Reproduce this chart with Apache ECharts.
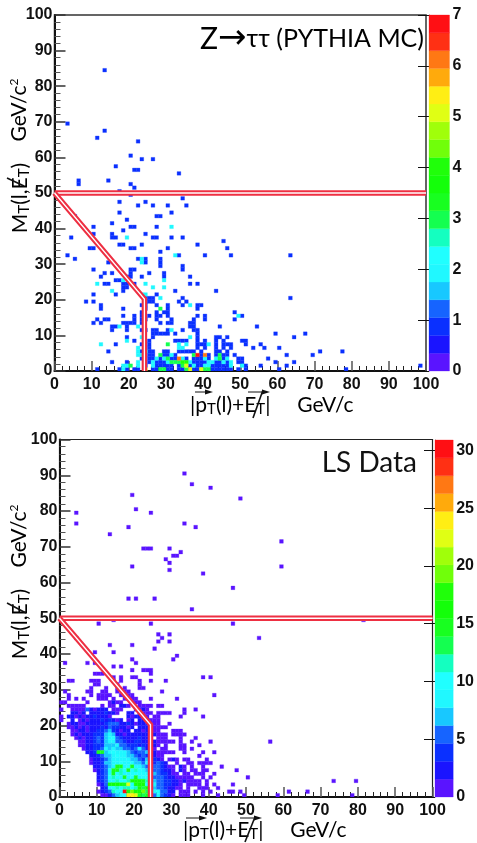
<!DOCTYPE html>
<html>
<head>
<meta charset="utf-8">
<style>
  html, body { margin: 0; padding: 0; background: #fff; }
  #main { width: 477px; height: 843px; }
</style>
<script src="https://cdn.jsdelivr.net/npm/echarts@6/dist/echarts.min.js"></script>
</head>
<body>
<div id="main"></div>
<script>
// 20 colour levels of the z scale, low to high
const palette = ['#5a14ff', '#1a14ff', '#0a30ff', '#1664ff', '#18c8ff', '#20f8ff', '#20ffff', '#14ffc0', '#14ff50', '#18ff20',
  '#14ff0a', '#20ff0a', '#70ff0a', '#a0ff0a', '#e0ff14', '#ffee14', '#ffaa0c', '#ff7814', '#ff3014', '#ff0f14'];

const mcMax = 7;
const lsMax = 30.9;
const axisTicks = [0, 10, 20, 30, 40, 50, 60, 70, 80, 90, 100];
const mcBarTicks = [0, 1, 2, 3, 4, 5, 6, 7];
const lsBarTicks = [0, 5, 10, 15, 20, 25, 30];

// the cut drawn over both plots: a flat line and a bent one
const mcCutFlat = [[0, 50], [100, 50]];
const mcCutBent = [[0, 50], [24.2, 20.2], [24.2, 0]];
const lsCutFlat = [[0, 50], [100, 50]];
const lsCutBent = [[0, 50], [24.4, 20.2], [24.4, 0]];

// Z->tautau MC, each row is [y bin, x bins...], one array per bin content
const mcOnes = [[84, 13], [69, 3], [67, 13], [65, 11], [64, 22], [60, 20], [59, 23, 26], [57, 16], [56, 21, 22], [55, 33],
  [53, 6, 14], [52, 6, 20], [51, 21], [50, 17], [49, 20], [48, 34], [47, 17, 24], [46, 22, 26, 30, 35], [44, 17, 31],
  [43, 5, 27, 28], [42, 19], [41, 15], [40, 10, 20, 21, 27], [39, 18], [38, 10, 15, 24], [37, 4, 15, 16, 26, 27, 31, 34],
  [36, 45], [35, 17, 18, 23, 38], [34, 9, 10, 20, 21, 30, 46], [33, 28], [32, 3, 33, 40, 47, 63], [31, 5, 22, 24, 28],
  [30, 14, 24, 28], [29, 28, 34], [28, 10, 20, 21, 34], [27, 13, 15, 20, 25, 29], [26, 12, 19, 20, 23, 29, 36], [25, 16, 17],
  [24, 13, 14, 18, 19, 21, 36, 38], [23, 18, 19], [22, 18, 32, 43], [21, 10, 16, 27], [20, 24, 25, 26, 34, 63],
  [19, 8, 10, 24, 25, 26, 33, 35], [18, 12, 23, 24, 27, 30, 34, 38, 39], [17, 12, 18, 24, 30, 38], [16, 23, 27, 29, 30, 48],
  [15, 18, 21, 23, 25, 27, 28, 30, 38, 40, 50], [14, 11, 13, 14, 21, 23, 24, 27, 31, 37, 40, 48],
  [13, 10, 12, 18, 19, 20, 21, 23, 28, 30, 31, 36, 37], [12, 15, 16, 19, 36, 37, 44, 54],
  [11, 15, 19, 23, 24, 26, 27, 30, 34, 37, 38], [10, 26, 27, 28, 29, 30, 32, 38, 59, 67], [9, 19, 26, 38, 43, 44, 46, 64],
  [8, 21, 25, 32, 33, 34, 35, 38, 40, 43, 45, 50, 51], [7, 16, 23, 25, 38, 39, 40, 43, 45, 46, 47, 51, 55],
  [6, 25, 38, 40, 43, 45, 47, 53, 56, 60], [5, 14, 23, 25, 26, 29, 30, 33, 34, 35, 36, 37, 39, 43, 44, 46, 71, 77],
  [4, 25, 26, 29, 30, 32, 39, 41, 43, 44, 45, 46, 48, 62, 69], [3, 23, 25, 26, 28, 31, 32, 35, 37, 38, 39, 41, 45, 49, 50, 57],
  [2, 15, 19, 25, 27, 28, 29, 37, 38, 39, 40, 43, 44, 46, 49, 50, 59, 64],
  [1, 24, 27, 28, 29, 30, 31, 33, 36, 38, 39, 42, 43, 44, 45, 46, 51, 55, 62, 98],
  [0, 11, 17, 19, 21, 22, 26, 27, 30, 31, 33, 34, 37, 38, 42, 43, 44, 45, 46, 47, 49, 51, 60, 78]];
const mcTwos = [[40, 31], [37, 19], [32, 32], [31, 23], [30, 23], [25, 18, 29], [24, 11, 24], [23, 26, 29], [22, 15], [21, 23, 24],
  [20, 28], [18, 36], [15, 49], [12, 17, 22], [11, 31], [9, 23, 36], [8, 19], [7, 12, 33, 35, 41], [6, 22, 33, 34], [5, 22, 24],
  [4, 22, 23, 31], [3, 27, 29, 34, 40, 43, 46], [2, 22, 26, 30, 36, 41, 42, 45, 47], [1, 18, 19, 22, 26, 37, 40, 41, 47, 50], [0, 18]];
const mcThrees = [[17, 28], [7, 30], [4, 28, 37, 44], [3, 30, 44], [2, 31, 32, 33], [1, 20, 34], [0, 28, 29, 35, 40, 41]];
const mcFours = [[2, 34, 35]];
const mcFives = [[1, 35], [0, 24, 36, 39]];
const mcSixes = [[4, 40], [3, 33]];
const mcSevens = [[4, 38]];

// LS data, dense part left of the cut: [y bin, first x bin, contents going right]
const lsRows = [
  [26, 0, [1, 1, 0, 0, 0, 0, 0, 1, 0, 0, 0, 0, 0, 1, 2, 1, 1, 0, 0, 1, 1, 1]],
  [25, 2, [1, 1, 1, 1, 1, 0, 0, 0, 0, 1, 0, 1, 1, 0, 2, 2, 1, 0, 0, 1, 1, 1, 1, 0, 1, 1]],
  [24, 0, [1, 0, 0, 1, 1, 1, 1, 5, 2, 1, 2, 2, 2, 0, 1, 1, 1, 0, 0, 0, 2, 1, 2, 1]],
  [23, 3, [2, 2, 1, 2, 0, 2, 2, 2, 2, 4, 2, 2, 1, 0, 0, 2, 2, 0, 2, 1, 1, 1, 0, 1, 1, 1, 1]],
  [22, 0, [1, 0, 2, 2, 1, 2, 1, 2, 2, 4, 2, 2, 2, 1, 0, 0, 0, 0, 2, 1, 2, 2, 1, 1, 0, 1, 1]],
  [21, 0, [1, 0, 0, 2, 0, 1, 2, 1, 2, 2, 2, 4, 2, 4, 2, 1, 2, 0, 1, 2, 0, 2, 2, 2, 1, 1, 1]],
  [20, 2, [1, 2, 2, 1, 1, 2, 2, 2, 2, 2, 4, 5, 5, 5, 2, 2, 4, 2, 1, 2, 2, 2, 2]],
  [19, 2, [1, 1, 2, 1, 2, 1, 2, 2, 2, 4, 2, 5, 4, 4, 2, 2, 1, 2, 0, 2, 2, 2, 1]],
  [18, 3, [1, 1, 2, 2, 1, 2, 2, 4, 4, 5, 7, 4, 2, 1, 2, 2, 0, 2, 2, 1, 2, 1]],
  [17, 3, [1, 2, 1, 2, 2, 2, 4, 4, 4, 7, 8, 7, 2, 2, 1, 2, 2, 2, 2, 2, 2, 1]],
  [16, 4, [1, 2, 1, 2, 2, 4, 5, 4, 7, 8, 10, 5, 4, 2, 2, 2, 2, 4, 2, 2, 1]],
  [15, 5, [1, 1, 2, 2, 4, 5, 4, 7, 8, 8, 5, 5, 4, 2, 2, 4, 4, 2, 2, 1]],
  [14, 5, [1, 1, 2, 2, 4, 4, 4, 7, 7, 7, 8, 5, 5, 4, 4, 4, 2, 4, 2, 2]],
  [13, 6, [1, 2, 2, 4, 4, 5, 8, 7, 8, 7, 7, 5, 5, 4, 5, 8, 5, 2, 4]],
  [12, 7, [2, 2, 4, 15, 15, 7, 8, 10, 8, 8, 8, 7, 5, 4, 5, 5, 7, 4]],
  [11, 8, [2, 2, 4, 5, 7, 7, 8, 10, 8, 8, 7, 7, 5, 4, 5, 4, 8]],
  [10, 8, [1, 2, 2, 4, 5, 7, 8, 8, 8, 8, 8, 7, 7, 5, 4, 7, 7]],
  [9, 8, [1, 2, 2, 4, 7, 7, 8, 8, 10, 8, 8, 8, 7, 7, 5, 8, 7]],
  [8, 9, [2, 2, 4, 5, 7, 8, 15, 15, 8, 10, 15, 8, 8, 7, 5, 8]],
  [7, 9, [1, 2, 4, 5, 8, 15, 15, 12, 10, 15, 10, 12, 10, 8, 7, 5]],
  [6, 10, [2, 4, 5, 8, 15, 10, 12, 8, 8, 10, 10, 10, 10, 8, 7]],
  [5, 10, [2, 4, 5, 10, 12, 10, 8, 15, 8, 10, 15, 8, 10, 10, 8]],
  [4, 10, [2, 4, 5, 8, 8, 12, 10, 10, 12, 16, 16, 16, 15, 12, 8]],
  [3, 10, [1, 2, 5, 16, 16, 16, 16, 15, 22, 10, 16, 16, 16, 10, 8]],
  [2, 11, [2, 4, 8, 10, 12, 10, 12, 12, 10, 12, 16, 13, 16, 8]],
  [1, 10, [1, 2, 4, 5, 12, 10, 8, 30, 16, 20, 16, 16, 19, 13, 8]],
  [0, 11, [1, 1, 2, 5, 7, 8, 10, 24, 24, 22, 15, 13, 15, 8]]
];

// LS data, right of the cut, same layout
const lsRightRows = [
  [20, 25, [1, 1, 0, 0, 1]],
  [19, 25, [1, 1, 1, 1]],
  [18, 25, [1, 1, 0, 0, 0, 1, 1, 1]],
  [17, 25, [2, 1, 1, 1, 0, 1, 1, 1, 1]],
  [16, 25, [0, 1, 1, 1, 0, 0, 0, 1, 0, 0, 0, 1]],
  [15, 25, [2, 1, 1, 1, 1, 1, 0, 1, 0, 0, 1, 0, 0, 0, 0, 1]],
  [14, 25, [2, 1, 0, 1, 0, 0, 0, 1, 1, 0, 0, 0, 1]],
  [13, 25, [1, 0, 1, 1, 0, 0, 0, 1, 1, 0, 1]],
  [12, 25, [2, 1, 1, 1, 1, 1, 0, 0, 1, 0, 0, 0, 0, 1, 0, 0, 1]],
  [11, 25, [2, 1, 1, 0, 0, 0, 0, 0, 0, 0, 0, 0, 1]],
  [10, 25, [4, 2, 1, 0, 1, 2, 1, 0, 1, 1, 0, 0, 0, 0, 1]],
  [9, 25, [4, 5, 4, 2, 0, 0, 1, 0, 0, 1, 1, 0, 1, 1, 1, 1]],
  [8, 25, [5, 5, 4, 2, 1, 1, 0, 2, 1, 0, 1, 0, 0, 1]],
  [7, 25, [5, 5, 4, 2, 2, 1, 0, 2, 1, 0, 1, 1, 0, 1, 1]],
  [6, 25, [7, 5, 4, 4, 2, 1, 1, 0, 1, 1, 0, 1, 1, 1, 0, 0, 1]],
  [5, 25, [5, 5, 5, 4, 2, 2, 1, 1, 1, 1, 1, 0, 0, 1, 0, 1]],
  [4, 25, [7, 5, 5, 4, 4, 2, 2, 1, 2, 1, 1, 1, 1, 0, 1]],
  [3, 25, [8, 5, 5, 4, 4, 2, 2, 1, 0, 1, 1, 1, 1, 0, 1, 0, 1]],
  [2, 25, [7, 5, 5, 4, 2, 2, 1, 1, 0, 1, 0, 0, 1, 1, 1, 0, 0, 1]],
  [1, 25, [8, 10, 5, 5, 2, 2, 0, 1, 1, 1, 0, 1, 0, 1, 0, 1]],
  [0, 25, [5, 8, 5, 4, 2, 1, 0, 1, 1, 1, 0, 0, 0, 1]]
];

// LS data, single entries above and right of the dense part: [y bin, x bins...]
const lsOnes = [[90, 33], [87, 35], [86, 40], [84, 19], [83, 48], [80, 20], [79, 4, 24], [76, 4, 33], [75, 18, 36], [73, 13], [71, 59],
  [69, 22, 23, 24, 29], [68, 32], [67, 30, 31], [66, 28], [65, 29], [64, 19, 59], [63, 29], [62, 38], [58, 46], [55, 18, 20, 25],
  [52, 35], [49, 14, 81], [48, 10, 24, 46], [45, 26, 29], [44, 4, 27, 53], [43, 26, 29], [42, 13, 19], [41, 25], [40, 9, 14],
  [39, 31], [38, 19, 30], [37, 1, 7, 9, 20], [36, 14, 16], [35, 19, 22, 23, 24], [34, 9, 10, 11, 24], [33, 14, 16, 19, 20, 38, 40],
  [32, 2, 3, 8, 9, 10, 14, 16, 21, 24, 28], [31, 9, 10, 15, 21], [30, 8, 12, 15, 17, 21, 22], [29, 1, 7, 8, 11, 12, 15, 17, 18, 27],
  [28, 2, 8, 10, 11, 12, 13, 16, 17, 18, 19, 41], [27, 2, 4, 6, 10, 11, 12, 14, 17, 18, 19, 20, 24, 31],
  [24, 33, 36], [23, 33], [22, 32, 38], [15, 56], [14, 37], [12, 38, 41], [11, 37], [8, 43], [7, 47], [5, 50], [4, 73, 79],
  [3, 41, 46], [1, 45, 46, 48, 61, 66], [0, 42, 49, 58, 78]];

function addRows(map, rows, count) {
  rows.forEach(function (row) {
    row.slice(1).forEach(function (x) { map[x + '_' + row[0]] = [x, row[0], count]; });
  });
}

var mcMap = {};
[mcOnes, mcTwos, mcThrees, mcFours, mcFives, mcSixes, mcSevens].forEach(function (rows, i) { addRows(mcMap, rows, i + 1); });
var mcData = Object.values(mcMap);

var lsMap = {};
addRows(lsMap, lsOnes, 1);
lsRows.concat(lsRightRows).forEach(function (row) {
  row[2].forEach(function (v, i) {
    if (v > 0) lsMap[(row[1] + i) + '_' + row[0]] = [row[1] + i, row[0], v];
  });
});
var lsData = Object.values(lsMap);

function heatSeries(data, axisIndex, zMax) {
  return {
    type: 'custom',
    xAxisIndex: axisIndex,
    yAxisIndex: axisIndex,
    animation: false,
    silent: true,
    clip: true,
    encode: { x: 0, y: 1 },
    data: data,
    renderItem: function (params, api) {
      var a = api.coord([api.value(0), api.value(1) + 1]);
      var b = api.coord([api.value(0) + 1, api.value(1)]);
      var level = Math.min(19, Math.floor(api.value(2) / (zMax / 20)));
      return {
        type: 'rect',
        shape: { x: a[0], y: a[1], width: b[0] - a[0], height: b[1] - a[1] },
        style: { fill: palette[level], stroke: palette[level], lineWidth: 0.3 }
      };
    }
  };
}

function barSeries(axisIndex, zMax) {
  return {
    type: 'custom',
    xAxisIndex: axisIndex,
    yAxisIndex: axisIndex,
    animation: false,
    silent: true,
    encode: { y: 1 },
    data: palette.map(function (c, i) { return [0, i]; }),
    renderItem: function (params, api) {
      var step = zMax / 20;
      var a = api.coord([0, (api.value(1) + 1) * step]);
      var b = api.coord([1, api.value(1) * step]);
      return {
        type: 'rect',
        shape: { x: a[0], y: a[1], width: b[0] - a[0], height: b[1] - a[1] },
        style: { fill: palette[api.value(1)], stroke: palette[api.value(1)], lineWidth: 0.3 }
      };
    }
  };
}

// red band with a white core
function cutSeries(points, axisIndex) {
  return [['#ee2f42', 5.5], ['#ffffff', 1.3]].map(function (s) {
    return {
      type: 'line',
      xAxisIndex: axisIndex,
      yAxisIndex: axisIndex,
      data: points,
      symbol: 'none',
      animation: false,
      silent: true,
      z: 5,
      lineStyle: { color: s[0], width: s[1], join: 'miter' }
    };
  });
}

var tickFont = { color: '#111', fontFamily: 'Liberation Sans', fontWeight: 'bold', fontSize: 16 };

function mainX(gridIndex) {
  return {
    gridIndex: gridIndex, type: 'value', min: 0, max: 100, interval: 10,
    axisLine: { lineStyle: { color: '#111', width: 2 } },
    axisTick: { inside: true, length: 10, lineStyle: { color: '#555', width: 1.5 } },
    minorTick: { show: true, splitNumber: 5, length: 5, lineStyle: { color: '#222', width: 1 } },
    splitLine: { show: false },
    axisLabel: Object.assign({ margin: 6, customValues: axisTicks }, tickFont)
  };
}
function mainY(gridIndex) {
  return {
    gridIndex: gridIndex, type: 'value', min: 0, max: 100, interval: 10,
    axisLine: { lineStyle: { color: '#111', width: 2 } },
    axisTick: { inside: true, length: 11, lineStyle: { color: '#333', width: 1.5 } },
    minorTick: { show: true, splitNumber: 5, length: 6, lineStyle: { color: '#555', width: 1 } },
    splitLine: { show: false },
    axisLabel: Object.assign({ margin: 2, customValues: axisTicks }, tickFont)
  };
}
function barX(gridIndex) {
  return { gridIndex: gridIndex, type: 'value', min: 0, max: 1, show: false };
}
function barY(gridIndex, zMax, ticks) {
  return {
    gridIndex: gridIndex, type: 'value', position: 'right', min: 0, max: zMax,
    axisLine: { show: true, lineStyle: { color: '#888', width: 1 } },
    axisTick: { inside: true, length: 11, customValues: ticks, lineStyle: { color: '#111', width: 1 } },
    splitLine: { show: false },
    axisLabel: Object.assign({ margin: 3, customValues: ticks }, tickFont)
  };
}

var labelFont = 'Lato';
var richParts = {
  b: { fontFamily: labelFont, fontSize: 21, color: '#222' },
  s: { fontFamily: labelFont, fontSize: 15, color: '#222', padding: [9, 0, 0, 0] },
  u: { fontFamily: labelFont, fontSize: 12, color: '#222', padding: [0, 0, 9, 0] }
};

function axisTitleY(x, y, str) {
  return {
    type: 'text', x: x, y: y, rotation: Math.PI / 2, z: 20,
    style: { text: str, rich: richParts, align: 'center', verticalAlign: 'middle' }
  };
}
function arrow(x1, x2, y) {
  return [
    { type: 'line', z: 20, shape: { x1: x1, y1: y, x2: x2 - 4, y2: y }, style: { stroke: '#111', lineWidth: 1 } },
    { type: 'polygon', z: 20, shape: { points: [[x2, y], [x2 - 8, y - 2.5], [x2 - 8, y + 2.5]] }, style: { fill: '#111' } }
  ];
}
function slash(x1, y1, x2, y2) {
  return { type: 'line', z: 21, shape: { x1: x1, y1: y1, x2: x2, y2: y2 }, style: { stroke: '#111', lineWidth: 1.6 } };
}

var xTitle = '{b||p}{s|T}{b|(l)+E}{s|T}{b||     GeV/c}';
var yTitleM = '{b|M}{s|T}{b|(l,E}{s|T}{b|)}';
var yTitleG = '{b|GeV/c}{u|2}';

var graphics = [
  axisTitleY(20, 198, yTitleM),
  axisTitleY(19, 110, yTitleG),
  { type: 'text', x: 190, y: 405, z: 20, style: { text: xTitle, rich: richParts, verticalAlign: 'middle' } },
  axisTitleY(20, 624, yTitleM),
  axisTitleY(19, 536, yTitleG),
  { type: 'text', x: 183, y: 830, z: 20, style: { text: xTitle, rich: richParts, verticalAlign: 'middle' } },
  {
    type: 'text', x: 424, y: 39, z: 20,
    style: {
      text: '{z|Z}{a|\u2192}{t|\u03C4\u03C4 (PYTHIA MC)}',
      align: 'right', verticalAlign: 'middle',
      rich: {
        z: { fontFamily: labelFont, fontSize: 30, color: '#111' },
        a: { fontFamily: 'DejaVu Sans', fontSize: 34, color: '#111' },
        t: { fontFamily: labelFont, fontSize: 25, color: '#111' }
      }
    }
  },
  {
    type: 'text', x: 417, y: 463, z: 20,
    style: { text: 'LS Data', fontFamily: labelFont, fontSize: 28, fill: '#111', align: 'right', verticalAlign: 'middle' }
  },
  slash(7, 178, 24, 186),
  slash(7, 603, 26, 613),
  slash(253, 418, 263, 390),
  slash(245, 842, 255, 817)
].concat(arrow(195, 213, 392), arrow(248, 270, 392), arrow(186, 207, 818), arrow(240, 262, 818));

var chart = echarts.init(document.getElementById('main'), null, { renderer: 'canvas' });
chart.setOption({
  animation: false,
  backgroundColor: '#fff',
  grid: [
    { left: 54.5, top: 15, width: 371.5, height: 356, show: true, borderColor: '#333', borderWidth: 1.5, backgroundColor: 'transparent' },
    { left: 429, top: 15, width: 20.5, height: 356 },
    { left: 59.5, top: 439.5, width: 373, height: 357.5, show: true, borderColor: '#222', borderWidth: 1.2, backgroundColor: 'transparent' },
    { left: 435, top: 440, width: 20.5, height: 357 }
  ],
  xAxis: [mainX(0), barX(1), mainX(2), barX(3)],
  yAxis: [mainY(0), barY(1, mcMax, mcBarTicks), mainY(2), barY(3, lsMax, lsBarTicks)],
  series: [
    heatSeries(mcData, 0, mcMax),
    barSeries(1, mcMax),
    heatSeries(lsData, 2, lsMax),
    barSeries(3, lsMax)
  ].concat(cutSeries(mcCutFlat, 0), cutSeries(mcCutBent, 0), cutSeries(lsCutFlat, 2), cutSeries(lsCutBent, 2)),
  graphic: graphics
});
</script>
</body>
</html>
